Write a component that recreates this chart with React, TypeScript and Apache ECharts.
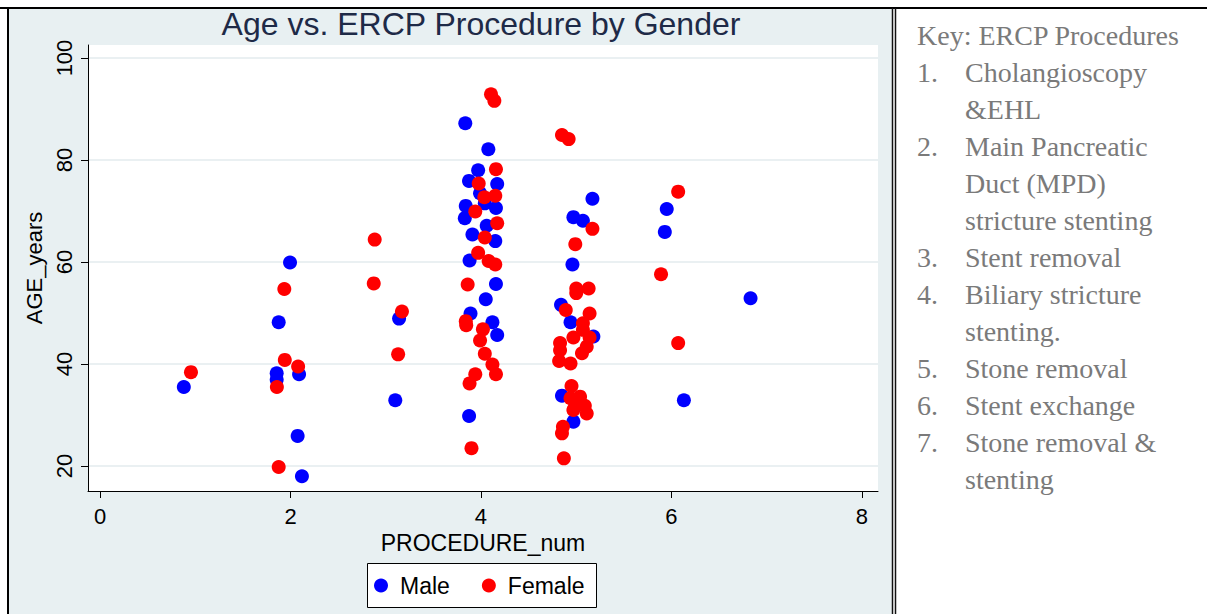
import React, { useEffect, useRef } from "react";
import * as echarts from "echarts";

// ---- data ----
const maleX = [0.88, 1.995, 1.876, 2.09, 1.855, 1.855, 2.075, 2.12, 3.14, 3.1, 3.835, 4.077, 3.97, 3.874, 4.17, 3.99, 4.04, 3.84, 4.157, 3.83, 4.06, 3.91, 4.15, 3.88, 4.157, 4.05, 3.89, 4.12, 4.17, 3.875, 5.17, 4.97, 5.07, 4.96, 4.84, 4.94, 5.18, 4.85, 4.97, 5.95, 5.93, 6.83, 6.13];
const maleAge = [35.5, 59.9, 48.2, 38.0, 38.2, 36.9, 25.9, 18.0, 48.9, 32.9, 87.2, 82.1, 78.0, 75.9, 75.3, 73.5, 71.5, 71.0, 70.6, 68.6, 67.1, 65.4, 64.1, 60.3, 55.7, 52.7, 49.9, 48.2, 45.7, 29.8, 72.4, 68.8, 68.1, 59.5, 51.6, 48.2, 45.4, 33.8, 28.7, 70.4, 65.9, 52.9, 32.9];
const femaleX = [0.955, 1.935, 1.94, 2.08, 1.857, 1.876, 2.884, 2.874, 3.17, 3.13, 4.105, 4.14, 4.157, 3.976, 4.035, 4.15, 3.94, 4.17, 4.04, 3.97, 4.08, 4.15, 3.86, 3.84, 3.845, 4.02, 3.99, 4.04, 4.12, 4.157, 3.94, 3.88, 3.9, 4.85, 4.92, 5.17, 4.99, 5.0, 5.13, 5.0, 4.89, 5.14, 5.07, 5.07, 5.14, 4.97, 4.83, 5.11, 4.83, 5.06, 4.82, 4.94, 4.95, 4.94, 5.04, 5.0, 5.09, 5.11, 4.97, 4.86, 4.85, 4.87, 6.07, 5.89, 6.07];
const femaleAge = [38.4, 54.7, 40.8, 39.5, 35.5, 19.8, 64.4, 55.8, 50.3, 41.9, 92.9, 91.6, 78.2, 75.4, 72.7, 73.0, 69.9, 67.6, 64.8, 61.8, 60.2, 59.5, 55.6, 48.4, 47.6, 46.8, 44.6, 42.0, 39.9, 38.0, 38.0, 36.2, 23.5, 84.9, 84.1, 66.5, 63.5, 54.8, 54.8, 53.9, 50.6, 49.9, 48.0, 46.7, 45.2, 45.2, 44.1, 43.4, 42.7, 42.1, 40.6, 40.1, 35.7, 33.3, 33.6, 32.0, 31.8, 30.3, 31.0, 27.7, 26.4, 21.5, 73.8, 57.6, 44.1];
const xTicks = [0, 2, 4, 6, 8];
const yTicks = [20, 40, 60, 80, 100];
const seriesNames = ["Male", "Female"];
const titleText = "Age vs. ERCP Procedure by Gender";
const keyLines: [string, string][] = [
  ["", "Key: ERCP Procedures"],
  ["1.", "Cholangioscopy"],
  ["", "&EHL"],
  ["2.", "Main Pancreatic"],
  ["", "Duct (MPD)"],
  ["", "stricture stenting"],
  ["3.", "Stent removal"],
  ["4.", "Biliary stricture"],
  ["", "stenting."],
  ["5.", "Stone removal"],
  ["6.", "Stent exchange"],
  ["7.", "Stone removal &"],
  ["", "stenting"],
];

const zip = (xs: number[], ys: number[]) => xs.map((x, i) => [x, ys[i]]);

export default function App() {
  const ref = useRef<HTMLDivElement>(null);
  useEffect(() => {
    if (!ref.current) return;
    const chart = echarts.init(ref.current, null, { renderer: "svg" });
    const sans = "Liberation Sans, Arial, sans-serif";
    const serif = "Liberation Serif, Times New Roman, serif";
    const keyColor = "#7a7a7a";
    const keyFont = `28px ${serif}`;
    const keyGraphics: any[] = [];
    keyLines.forEach(([num, txt], i) => {
      const y = 35 + i * 37;
      if (i === 0) {
        keyGraphics.push({ type: "text", x: 917, y, style: { text: txt, fill: keyColor, font: keyFont, verticalAlign: "middle" }, z: 10 });
      } else {
        if (num) keyGraphics.push({ type: "text", x: 917, y, style: { text: num, fill: keyColor, font: keyFont, verticalAlign: "middle" }, z: 10 });
        keyGraphics.push({ type: "text", x: 965, y, style: { text: txt, fill: keyColor, font: keyFont, verticalAlign: "middle" }, z: 10 });
      }
    });
    chart.setOption({
      animation: false,
      graphic: [
        { type: "rect", shape: { x: 9, y: 9, width: 883, height: 610 }, style: { fill: "#e8f0f2" }, z: -10, silent: true },
        { type: "rect", shape: { x: 88, y: 45, width: 790, height: 446 }, style: { fill: "#ffffff" }, z: -9, silent: true },
        { type: "line", shape: { x1: 0, y1: 8, x2: 1207, y2: 8 }, style: { stroke: "#000", lineWidth: 2 }, z: 10 },
        { type: "line", shape: { x1: 8, y1: 8, x2: 8, y2: 614 }, style: { stroke: "#000", lineWidth: 2 }, z: 10 },
        { type: "line", shape: { x1: 892.5, y1: 8, x2: 892.5, y2: 614 }, style: { stroke: "#111", lineWidth: 1.5 }, z: 10 },
        { type: "line", shape: { x1: 895.5, y1: 8, x2: 895.5, y2: 614 }, style: { stroke: "#111", lineWidth: 1.5 }, z: 10 },
        { type: "text", x: 481, y: 24, style: { text: titleText, fill: "#1e2a47", font: `32px ${sans}`, align: "center", verticalAlign: "middle" }, z: 10 },
        { type: "rect", shape: { x: 367.5, y: 563.5, width: 229, height: 44 }, style: { fill: "#fff", stroke: "#000", lineWidth: 1 }, z: 5 },
        ...keyGraphics,
      ],
      grid: { left: 88, top: 45, width: 790, height: 446, containLabel: false },
      legend: {
        left: 374,
        top: 574,
        padding: 0,
        itemWidth: 14,
        itemHeight: 14,
        itemGap: 32,
        icon: "circle",
        z: 10,
        textStyle: { fontFamily: sans, fontSize: 23, color: "#000", padding: [0, 0, 0, 7] },
        data: seriesNames,
      },
      xAxis: {
        type: "value",
        min: -0.126,
        max: 8.168,
        name: "PROCEDURE_num",
        nameLocation: "middle",
        nameGap: 38,
        nameTextStyle: { fontFamily: sans, fontSize: 23, color: "#000" },
        axisLine: { show: true, onZero: false, lineStyle: { color: "#000", width: 1 } },
        axisTick: { show: true, length: 7, customValues: xTicks, lineStyle: { color: "#000" } },
        axisLabel: { customValues: xTicks, fontFamily: sans, fontSize: 22, color: "#000", margin: 14 },
        splitLine: { show: false },
      },
      yAxis: {
        type: "value",
        min: 15.1,
        max: 102.55,
        name: "AGE_years",
        nameLocation: "middle",
        nameGap: 37,
        nameRotate: 90,
        nameTextStyle: { fontFamily: sans, fontSize: 22, color: "#000" },
        axisLine: { show: true, onZero: false, lineStyle: { color: "#000", width: 1 } },
        axisTick: { show: true, length: 7, customValues: yTicks, lineStyle: { color: "#000" } },
        axisLabel: { customValues: yTicks, rotate: 90, fontFamily: sans, fontSize: 22, color: "#000", margin: 13 },
        splitLine: { show: true, lineStyle: { color: "#eaf0f2", width: 2 } },
      },
      series: [
        { name: seriesNames[0], type: "scatter", symbol: "circle", symbolSize: 14, itemStyle: { color: "#0000ff", opacity: 1 }, data: zip(maleX, maleAge), z: 3 },
        { name: seriesNames[1], type: "scatter", symbol: "circle", symbolSize: 14, itemStyle: { color: "#ff0000", opacity: 1 }, data: zip(femaleX, femaleAge), z: 4 },
      ],
    });
    return () => chart.dispose();
  }, []);
  return <div ref={ref} style={{ position: "fixed", left: 0, top: 0, width: 1207, height: 614, background: "#fff" }} />;
}
